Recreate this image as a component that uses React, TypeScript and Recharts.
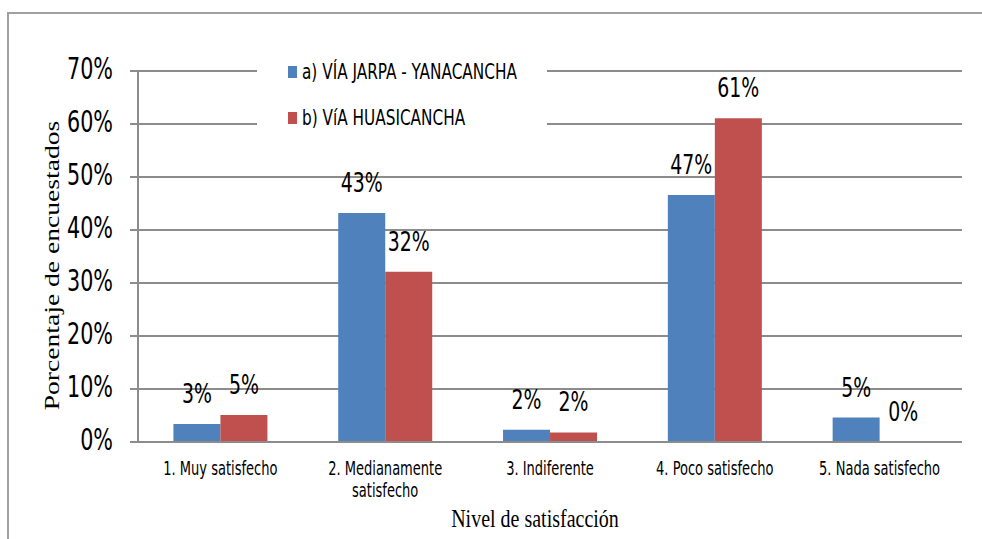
import { Bar, BarChart, CartesianGrid, Label, LabelList, Legend, XAxis, YAxis } from "recharts";

document.body.style.margin = "0";

const categories = [
  "1. Muy satisfecho",
  "2. Medianamente\nsatisfecho",
  "3. Indiferente",
  "4. Poco satisfecho",
  "5. Nada satisfecho"
];
const viaJarpa = [3.4, 43.2, 2.3, 46.6, 4.6];
const viaHuasicancha = [5.1, 32.1, 1.8, 61.1, 0];
const yTicks = [0, 10, 20, 30, 40, 50, 60, 70];

const seriesNames = ["a) VÍA JARPA - YANACANCHA", "b) VíA HUASICANCHA"];
const colors = ["#4F81BD", "#C0504D"];

const narrow = "'Liberation Sans Narrow', 'DejaVu Sans Condensed', 'Open Sans', sans-serif";
const serif = "'Liberation Serif', 'DejaVu Serif', serif";
const gridColor = "#8c8c8c";
// the source image is stretched vertically, so text is too
const K = 1.28;
const stretch = (y: number) => `matrix(1 0 0 ${K} 0 ${y * (1 - K)})`;

const chartData = categories.map((name, i) => ({
  name,
  jarpa: viaJarpa[i],
  huasicancha: viaHuasicancha[i]
}));

const pct = (v: any) => `${Math.round(Number(v))}%`;

function PctText({ x, y, value }: { x: number; y: number; value: number }) {
  return (
    <text x={x} y={y} transform={stretch(y)} textAnchor="middle" fontSize={21} fontFamily={narrow} fill="#000">
      {pct(value)}
    </text>
  );
}

function ValueLabel(props: any) {
  const { x, y, width, height, value, index, zeroPartner } = props;
  const partner = zeroPartner ? zeroPartner[index] : null;
  return (
    <g>
      <PctText x={x + width / 2} y={y - 21} value={value} />
      {partner === 0 && <PctText x={x + width * 1.5} y={y + height - 21} value={0} />}
    </g>
  );
}

function XTick(props: any) {
  const { x, y, payload } = props;
  const lines = String(payload.value).split("\n");
  const base = y + 33;
  return (
    <text x={x} y={base} transform={stretch(base)} textAnchor="middle" fontSize={14.5} fontFamily={narrow} fill="#000">
      {lines.map((line, i) => (
        <tspan key={i} x={x} dy={i === 0 ? 0 : 22 / K}>
          {line}
        </tspan>
      ))}
    </text>
  );
}

function YTick(props: any) {
  const { x, y, payload } = props;
  const base = y + 8;
  return (
    <text x={x} y={base} transform={stretch(base)} textAnchor="end" fontSize={23} fontFamily={narrow} fill="#000">
      {`${payload.value}%`}
    </text>
  );
}

function LegendBox() {
  return (
    <div style={{ background: "#fff", width: 290, height: 92, position: "relative" }}>
      {seriesNames.map((name, i) => (
        <div
          key={name}
          style={{
            position: "absolute",
            left: 31,
            top: 4 + i * 46,
            display: "flex",
            alignItems: "center",
            fontFamily: narrow,
            fontSize: 17,
            color: "#000",
            whiteSpace: "nowrap"
          }}
        >
          <span style={{ display: "inline-block", width: 9, height: 12, background: colors[i], marginRight: 5 }} />
          <span style={{ display: "inline-block", transform: "scaleY(1.22)" }}>{name}</span>
        </div>
      ))}
    </div>
  );
}

export default function App() {
  return (
    <div style={{ position: "relative", width: 982, height: 539, overflow: "hidden", background: "#fff" }}>
      <div
        style={{
          position: "absolute",
          left: 7,
          top: 12,
          width: 1000,
          height: 600,
          border: "2px solid #a0a0a0"
        }}
      />
      <BarChart
        width={982}
        height={539}
        data={chartData}
        margin={{ top: 71, right: 20, left: 0, bottom: 0 }}
        barCategoryGap="21.5%"
        barGap={0}
        style={{ position: "absolute", left: 0, top: 0 }}
      >
        <CartesianGrid vertical={false} stroke={gridColor} strokeWidth={2} />
        <XAxis
          dataKey="name"
          height={97}
          interval={0}
          tickLine={false}
          tickSize={0}
          tickMargin={0}
          axisLine={{ stroke: gridColor, strokeWidth: 2 }}
          tick={<XTick />}
        >
          <Label
            content={({ viewBox }: any) => {
              const base = viewBox.y + 85;
              return (
                <text
                  x={viewBox.x + viewBox.width / 2 - 15}
                  y={base}
                  transform={stretch(base)}
                  textAnchor="middle"
                  fontSize={20}
                  fontFamily={serif}
                  fill="#000"
                >
                  Nivel de satisfacción
                </text>
              );
            }}
          />
        </XAxis>
        <YAxis
          width={138}
          domain={[0, 70]}
          ticks={yTicks}
          interval={0}
          tickSize={8}
          tickMargin={17}
          tickLine={{ stroke: gridColor, strokeWidth: 2 }}
          axisLine={{ stroke: gridColor, strokeWidth: 2 }}
          tick={<YTick />}
        >
          <Label
            content={({ viewBox }: any) => {
              const cx = viewBox.x + 52;
              const cy = viewBox.y + viewBox.height / 2 + 9;
              return (
                <text
                  x={0}
                  y={0}
                  transform={`translate(${cx} ${cy}) rotate(-90) scale(1.38 1)`}
                  textAnchor="middle"
                  dominantBaseline="central"
                  fontSize={20}
                  fontFamily={serif}
                  fill="#000"
                >
                  Porcentaje de encuestados
                </text>
              );
            }}
          />
        </YAxis>
        <Legend
          layout="horizontal"
          verticalAlign="middle"
          align="center"
          content={<LegendBox />}
          wrapperStyle={{ position: "absolute", left: 257, top: 58, width: 290, height: 92 }}
        />
        <Bar dataKey="jarpa" name={seriesNames[0]} fill={colors[0]} isAnimationActive={false}>
          <LabelList dataKey="jarpa" content={<ValueLabel zeroPartner={viaHuasicancha} />} />
        </Bar>
        <Bar dataKey="huasicancha" name={seriesNames[1]} fill={colors[1]} isAnimationActive={false}>
          <LabelList dataKey="huasicancha" content={<ValueLabel />} />
        </Bar>
      </BarChart>
    </div>
  );
}
